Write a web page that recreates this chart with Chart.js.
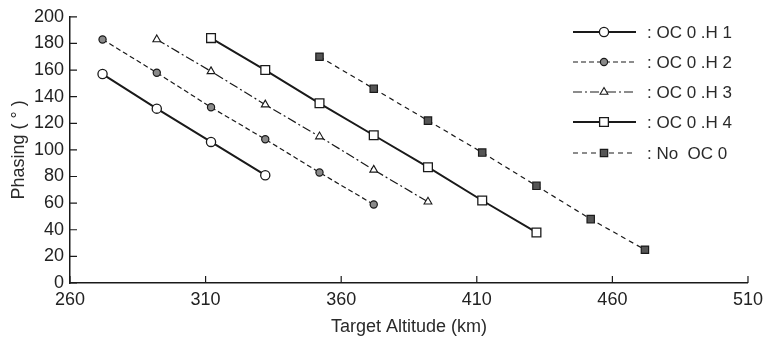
<!DOCTYPE html>
<html>
<head>
<meta charset="utf-8">
<script src="https://cdn.jsdelivr.net/npm/chart.js@4.4.1/dist/chart.umd.min.js"></script>
<style>
  html, body { margin: 0; padding: 0; background: #fff; }
  #wrap { width: 769px; height: 342px; }
</style>
</head>
<body>
<div id="wrap"><canvas id="c" width="769" height="342"></canvas></div>
<script>
// Phasing vs target altitude, one series per case.
var altH1 = [272, 292, 312, 332];
var phaseH1 = [157, 131, 106, 81];
var altH2 = [272, 292, 312, 332, 352, 372];
var phaseH2 = [183, 158, 132, 108, 83, 59];
var altH3 = [292, 312, 332, 352, 372, 392];
var phaseH3 = [183, 159, 134, 110, 85, 61];
var altH4 = [312, 332, 352, 372, 392, 412, 432];
var phaseH4 = [184, 160, 135, 111, 87, 62, 38];
var altNo = [352, 372, 392, 412, 432, 452, 472];
var phaseNo = [170, 146, 122, 98, 73, 48, 25];

var seriesLabels = [": OC 0 .H 1", ": OC 0 .H 2", ": OC 0 .H 3", ": OC 0 .H 4", ": No  OC 0"];
var xTicks = [260, 310, 360, 410, 460, 510];
var yTicks = [0, 20, 40, 60, 80, 100, 120, 140, 160, 180, 200];

function pts(xs, ys) {
  return xs.map(function (x, i) { return { x: x, y: ys[i] }; });
}

var INK = "#1a1a1a";

var datasets = [
  { label: seriesLabels[0], data: pts(altH1, phaseH1), borderColor: INK, borderWidth: 2,
    pointStyle: "circle", pointRadius: 4.6, pointBackgroundColor: "#fff", pointBorderColor: INK, pointBorderWidth: 1.3 },
  { label: seriesLabels[1], data: pts(altH2, phaseH2), borderColor: INK, borderWidth: 1.2, borderDash: [5, 3],
    pointStyle: "circle", pointRadius: 3.6, pointBackgroundColor: "#8a8a8a", pointBorderColor: INK, pointBorderWidth: 1.2 },
  { label: seriesLabels[2], data: pts(altH3, phaseH3), borderColor: INK, borderWidth: 1.2, borderDash: [9, 3, 2, 3],
    pointStyle: "triangle", pointRadius: 4.5, pointBackgroundColor: "#fff", pointBorderColor: INK, pointBorderWidth: 1.1 },
  { label: seriesLabels[3], data: pts(altH4, phaseH4), borderColor: INK, borderWidth: 2,
    pointStyle: "rect", pointRadius: 6.2, pointBackgroundColor: "#fff", pointBorderColor: INK, pointBorderWidth: 1.3 },
  { label: seriesLabels[4], data: pts(altNo, phaseNo), borderColor: INK, borderWidth: 1.2, borderDash: [5, 4],
    pointStyle: "rect", pointRadius: 5.2, pointBackgroundColor: "#555", pointBorderColor: INK, pointBorderWidth: 1.2 }
];
datasets.forEach(function (d) { d.fill = false; d.tension = 0; d.showLine = true; });

// tick marks in the figure point into the plot, not outwards
var inwardTicks = {
  id: "inwardTicks",
  afterDraw: function (chart) {
    var ctx = chart.ctx, a = chart.chartArea, xs = chart.scales.x, ys = chart.scales.y;
    ctx.save();
    ctx.strokeStyle = INK; ctx.lineWidth = 1.2;
    ctx.beginPath();
    xs.ticks.forEach(function (t) { var p = xs.getPixelForValue(t.value); ctx.moveTo(p, a.bottom); ctx.lineTo(p, a.bottom - 7); });
    ys.ticks.forEach(function (t) { var p = ys.getPixelForValue(t.value); ctx.moveTo(a.left, p); ctx.lineTo(a.left + 7, p); });
    ctx.stroke();
    ctx.restore();
  }
};

function marker(ctx, d, x, y) {
  var o = { pointStyle: d.pointStyle, radius: d.pointRadius, rotation: 0, borderWidth: d.pointBorderWidth };
  ctx.fillStyle = d.pointBackgroundColor; ctx.strokeStyle = d.pointBorderColor; ctx.lineWidth = d.pointBorderWidth;
  ctx.setLineDash([]);
  Chart.helpers.drawPoint(ctx, o, x, y);
}

// legend drawn inside the plot, top right: line sample with its marker, then text
var boxLegend = {
  id: "boxLegend",
  afterDraw: function (chart) {
    var ctx = chart.ctx;
    var rows = [32, 62, 92, 122, 153];
    ctx.save();
    chart.data.datasets.forEach(function (d, i) {
      var y = rows[i];
      ctx.strokeStyle = d.borderColor; ctx.lineWidth = d.borderWidth;
      ctx.setLineDash(d.borderDash || []);
      ctx.beginPath(); ctx.moveTo(573, y); ctx.lineTo(636, y); ctx.stroke();
      marker(ctx, d, 604, y);
      ctx.fillStyle = "#2a2a2a";
      ctx.font = "17px 'Liberation Sans', Arial, sans-serif";
      ctx.textBaseline = "middle"; ctx.textAlign = "left";
      ctx.fillText(d.label, 647, y + 1);
    });
    ctx.restore();
  }
};

var tickFont = { family: "'Liberation Sans Narrow', 'Liberation Sans', sans-serif", size: 18 };
var titleFont = { family: "'Liberation Sans', Arial, sans-serif", size: 18 };

new Chart(document.getElementById("c"), {
  type: "line",
  data: { datasets: datasets },
  options: {
    responsive: false,
    animation: false,
    layout: { padding: { top: 15, right: 19, left: 0, bottom: 0 } },
    plugins: { legend: { display: false }, tooltip: { enabled: false } },
    scales: {
      x: {
        type: "linear", min: 260, max: 510,
        afterBuildTicks: function (s) { s.ticks = xTicks.map(function (v) { return { value: v }; }); },
        afterFit: function (s) { s.height = 59; },
        grid: { display: false, drawTicks: false },
        border: { display: true, color: INK, width: 1.5 },
        ticks: { color: "#222", font: tickFont, padding: 6, maxRotation: 0 },
        title: { display: true, text: "Target Altitude (km)", color: "#2a2a2a", font: titleFont, padding: { top: 0, bottom: 4 } }
      },
      y: {
        min: 0, max: 200,
        afterBuildTicks: function (s) { s.ticks = yTicks.map(function (v) { return { value: v }; }); },
        afterFit: function (s) { s.width = 70; },
        grid: { display: false, drawTicks: false },
        border: { display: true, color: INK, width: 1.5 },
        ticks: { color: "#222", font: tickFont, padding: 6 },
        title: { display: true, text: "Phasing ( ° )", color: "#2a2a2a", font: titleFont, padding: { top: 8, bottom: 0 } }
      }
    }
  },
  plugins: [inwardTicks, boxLegend]
});
</script>
</body>
</html>
